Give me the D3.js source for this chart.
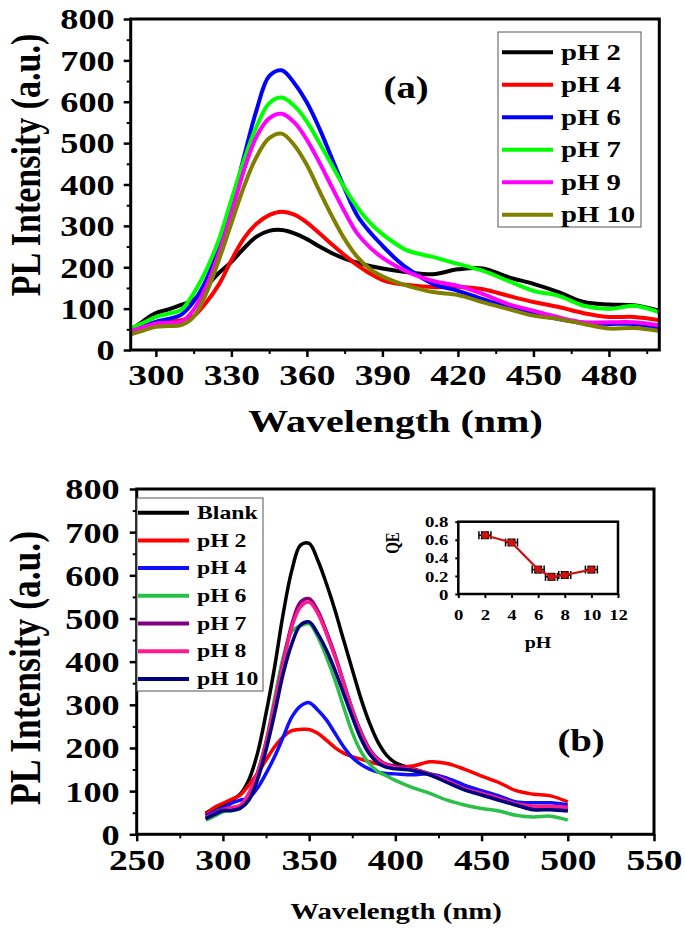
<!DOCTYPE html>
<html><head><meta charset="utf-8">
<script src="https://cdn.jsdelivr.net/npm/d3@7"></script>
<style>
html,body{margin:0;padding:0;background:#fff;}
svg{display:block;font-family:"Liberation Serif","Times New Roman",serif;font-weight:bold;}
</style></head><body>
<svg id="chart" width="685" height="929"></svg>
<script>
// ---------- DATA ----------
const wave = [290,295,300,305,310,315,320,325,330,335,340,345,350,355,360,365,370,375,380,385,390,395,400,410,420,430,440,450,460,470,480,490,500];

// Panel (a)
const seriesNamesA = ["pH 2","pH 4","pH 6","pH 7","pH 9","pH 10"];
const colorsA = ["#000000","#ff0000","#0000ff","#00ff00","#ff00ff","#808000"];
const aPH2  = [48,70,89,98,109,121,153,186,213,246,274,288,290,282,268,250,234,221,211,203,197,192,188,183,195,197,176,160,140,116,110,108,95];
const aPH4  = [45,56,65,68,72,82,115,158,217,270,305,326,334,327,308,282,255,229,205,185,169,161,157,152,153,147,131,116,104,89,80,80,72];
const aPH6  = [45,57,68,75,85,117,169,250,346,467,580,662,676,645,598,535,462,390,325,285,252,222,197,160,143,123,103,87,75,65,63,63,52];
const aPH7  = [52,66,80,88,97,137,193,266,363,459,540,596,610,590,552,500,446,392,345,308,280,258,240,225,208,191,167,143,131,107,99,107,91];
const aPH9  = [45,55,64,66,68,97,153,234,330,435,516,560,571,550,508,453,393,334,282,248,223,204,189,167,155,135,111,95,79,67,67,67,59];
const aPH10 = [38,47,56,58,60,80,137,217,306,395,467,512,523,495,447,384,323,268,225,196,178,165,155,140,133,115,99,83,75,63,52,53,46];
const xTicksA = [300,330,360,390,420,450,480];
const xMinorA = [315,345,375,405,435,465,495];
const yTicks = [0,100,200,300,400,500,600,700,800];
const yMinor = [50,150,250,350,450,550,650,750];

// Panel (b)
const seriesNamesB = ["Blank","pH 2","pH 4","pH 6","pH 7","pH 8","pH 10"];
const colorsB = ["#000000","#ff0000","#1010ff","#2cbf4a","#800080","#ff1a8c","#000080"];
const bBlank = [49,60,68,79,93,126,187,280,388,512,612,670,674,635,581,519,450,382,315,258,213,183,166,152,140,124,106,95,83,68,60,60,56];
const bPH2   = [46,62,72,81,91,114,141,172,203,226,240,243,243,234,218,201,188,180,174,168,163,159,157,158,168,164,151,135,120,101,93,89,75];
const bPH4   = [42,52,60,72,79,84,107,141,180,226,272,297,305,288,265,234,203,178,162,151,144,141,140,138,140,130,114,101,89,75,73,73,68];
const bPH6   = [33,42,52,55,62,80,141,215,315,410,470,483,488,458,411,357,295,236,192,163,145,135,125,108,95,79,68,60,54,44,40,42,33];
const bPH7   = [38,46,55,60,65,92,141,211,303,400,487,538,546,518,470,415,352,290,238,198,174,162,158,150,138,122,104,93,81,69,63,63,60];
const bPH8   = [38,48,57,62,67,95,141,211,303,396,481,527,538,512,465,411,350,288,234,195,172,160,155,150,140,124,106,95,83,71,65,65,62];
const bPH10  = [36,46,55,55,60,79,126,195,280,373,442,485,492,465,427,380,326,272,222,186,165,155,152,148,138,120,103,91,79,68,57,57,54];
const xTicksB = [250,300,350,400,450,500,550];
const xMinorB = [275,325,375,425,475,525];

// Inset
const qePH = [2,4,6,7,8,10];
const qeVal = [0.65,0.57,0.27,0.19,0.21,0.27];
const insetXTicks = [0,2,4,6,8,10,12];
const insetYTicks = [0,0.2,0.4,0.6,0.8];

// ---------- DRAW ----------
const SX = 1.25;
const svg = d3.select("#chart");

function label(parent, x, y, s, size, anchor, rotate) {
  const g = parent.append("g").attr("transform", rotate
    ? `translate(${x},${y}) rotate(-90) scale(1,${SX})`
    : `translate(${x},${y}) scale(${SX},1)`);
  g.append("text").attr("text-anchor", anchor || "start").attr("font-size", size).attr("fill", "#000").text(s);
  return g;
}

function styleText(s, size) {
  s.attr("font-size", size).attr("font-family", "Liberation Serif").attr("font-weight", "bold")
    .attr("fill", "#000").attr("transform", `scale(${SX},1)`);
}

function panel(cfg) {
  const g = svg.append("g");
  const x = cfg.x, y = cfg.y;
  const [x0, x1] = x.range(), [y0, y1] = y.range();
  // minor ticks
  g.append("g").attr("transform", `translate(0,${y0})`)
    .call(d3.axisBottom(x).tickValues(cfg.xMinor).tickSize(4).tickSizeOuter(0).tickFormat(""))
    .call(s => { s.select(".domain").remove(); s.selectAll("line").attr("stroke-width", 2); });
  g.append("g").attr("transform", `translate(${x0},0)`)
    .call(d3.axisLeft(y).tickValues(yMinor).tickSize(4).tickSizeOuter(0).tickFormat(""))
    .call(s => { s.select(".domain").remove(); s.selectAll("line").attr("stroke-width", 2); });
  // major ticks
  g.append("g").attr("transform", `translate(0,${y0})`)
    .call(d3.axisBottom(x).tickValues(cfg.xTicks).tickSize(7).tickSizeOuter(0).tickFormat(d3.format("d")))
    .call(s => {
      s.select(".domain").remove();
      s.selectAll("line").attr("stroke-width", 2.5);
      s.selectAll("text").attr("y", cfg.xLabelDy).attr("dy", 0).call(styleText, 30);
    });
  g.append("g").attr("transform", `translate(${x0},0)`)
    .call(d3.axisLeft(y).tickValues(yTicks).tickSize(7).tickSizeOuter(0).tickFormat(d3.format("d")))
    .call(s => {
      s.select(".domain").remove();
      s.selectAll("line").attr("stroke-width", 2.5);
      s.selectAll("text").attr("x", -cfg.yLabelGap / SX).attr("dy", "0.34em").call(styleText, 29);
    });
  // curves
  const line = d3.line().x((d, i) => x(wave[i])).y(d => y(d)).curve(d3.curveCatmullRom.alpha(0.5));
  cfg.series.forEach((s, i) => {
    g.append("path").attr("d", line(s)).attr("fill", "none")
      .attr("stroke", cfg.colors[i]).attr("stroke-width", cfg.lw).attr("stroke-linejoin", "round");
  });
  // frame
  g.append("rect").attr("x", x0).attr("y", y1).attr("width", x1 - x0).attr("height", y0 - y1)
    .attr("fill", "none").attr("stroke", "#000").attr("stroke-width", 3);
  // legend
  const L = cfg.legend;
  g.append("rect").attr("x", L.x).attr("y", L.y).attr("width", L.w).attr("height", L.h)
    .attr("fill", "#fff").attr("stroke", "#555").attr("stroke-width", 1);
  cfg.names.forEach((n, i) => {
    const ry = L.row0 + i * L.step;
    g.append("line").attr("x1", L.lx0).attr("x2", L.lx1).attr("y1", ry).attr("y2", ry)
      .attr("stroke", cfg.colors[i]).attr("stroke-width", 4);
    label(g, L.tx, ry + L.fs * 0.33, n, L.fs, "start");
  });
  return g;
}

// Panel (a)
const xA = d3.scaleLinear().domain([290, 500]).range([130.7, 659.3]);
const yA = d3.scaleLinear().domain([0, 800]).range([350, 19]);
panel({
  x: xA, y: yA, xTicks: xTicksA, xMinor: xMinorA, xLabelDy: 35, yLabelGap: 16,
  series: [aPH2, aPH4, aPH6, aPH7, aPH9, aPH10], colors: colorsA, names: seriesNamesA, lw: 4,
  legend: {x: 498, y: 32, w: 143, h: 195, row0: 52.3, step: 32.5, lx0: 502, lx1: 553, tx: 561, fs: 23}
});
label(svg, 383.6, 98, "(a)", 31, "start");
label(svg, 395.5, 432, "Wavelength (nm)", 32, "middle");
label(svg, 40, 165, "PL Intensity (a.u.)", 34, "middle", true);

// Panel (b)
const xB = d3.scaleLinear().domain([250, 550]).range([136.7, 654]);
const yB = d3.scaleLinear().domain([0, 800]).range([834.3, 489]);
panel({
  x: xB, y: yB, xTicks: xTicksB, xMinor: xMinorB, xLabelDy: 35.5, yLabelGap: 17,
  series: [bBlank, bPH2, bPH4, bPH6, bPH7, bPH8, bPH10], colors: colorsB, names: seriesNamesB, lw: 3.5,
  legend: {x: 137, y: 498, w: 126, h: 193, row0: 512.7, step: 27.7, lx0: 138, lx1: 189, tx: 197, fs: 19}
});
label(svg, 557.4, 751, "(b)", 31, "start");
label(svg, 396, 919, "Wavelength (nm)", 23, "middle");
label(svg, 40, 668, "PL Intensity (a.u.)", 35.5, "middle", true);

// Inset
const xI = d3.scaleLinear().domain([0, 12]).range([458.3, 618]);
const yI = d3.scaleLinear().domain([0, 0.8]).range([594, 521.7]);
const gi = svg.append("g");
gi.append("g").attr("transform", `translate(0,${yI(0)})`)
  .call(d3.axisBottom(xI).tickValues(insetXTicks).tickSize(4).tickSizeOuter(0).tickFormat(d3.format("d")))
  .call(s => {
    s.select(".domain").remove();
    s.selectAll("line").attr("stroke-width", 2);
    s.selectAll("text").attr("y", 26).attr("dy", 0).call(styleText, 15);
  });
gi.append("g").attr("transform", `translate(${xI(0)},0)`)
  .call(d3.axisLeft(yI).tickValues(insetYTicks).tickSize(3).tickSizeOuter(0).tickFormat(d => d === 0 ? "0" : d3.format(".1f")(d)))
  .call(s => {
    s.select(".domain").remove();
    s.selectAll("line").attr("stroke-width", 2);
    s.selectAll("text").attr("x", -10 / SX).attr("dy", "0.34em").call(styleText, 15);
  });
gi.append("rect").attr("x", xI(0)).attr("y", yI(0.8)).attr("width", xI(12) - xI(0)).attr("height", yI(0) - yI(0.8))
  .attr("fill", "none").attr("stroke", "#000").attr("stroke-width", 2.5);
// error bars + black squares
qePH.forEach((p, i) => {
  const cx = xI(p), cy = yI(qeVal[i]);
  gi.append("line").attr("x1", xI(p - 0.45)).attr("x2", xI(p + 0.45)).attr("y1", cy).attr("y2", cy).attr("stroke", "#000").attr("stroke-width", 1.5);
  [p - 0.45, p + 0.45].forEach(e => gi.append("line").attr("x1", xI(e)).attr("x2", xI(e)).attr("y1", cy - 4).attr("y2", cy + 4).attr("stroke", "#000").attr("stroke-width", 1.5));
  gi.append("rect").attr("x", cx - 4).attr("y", cy - 4).attr("width", 8).attr("height", 8).attr("fill", "#000");
});
gi.append("path").attr("d", d3.line().x((d, i) => xI(qePH[i])).y(d => yI(d))(qeVal))
  .attr("fill", "none").attr("stroke", "#cc1111").attr("stroke-width", 2.2);
qeVal.forEach((v, i) => gi.append("circle").attr("cx", xI(qePH[i])).attr("cy", yI(v)).attr("r", 3.6).attr("fill", "#cc1111"));
label(svg, 538, 648, "pH", 16, "middle");
label(svg, 399, 543, "QE", 15, "middle", true);
</script>
</body></html>
